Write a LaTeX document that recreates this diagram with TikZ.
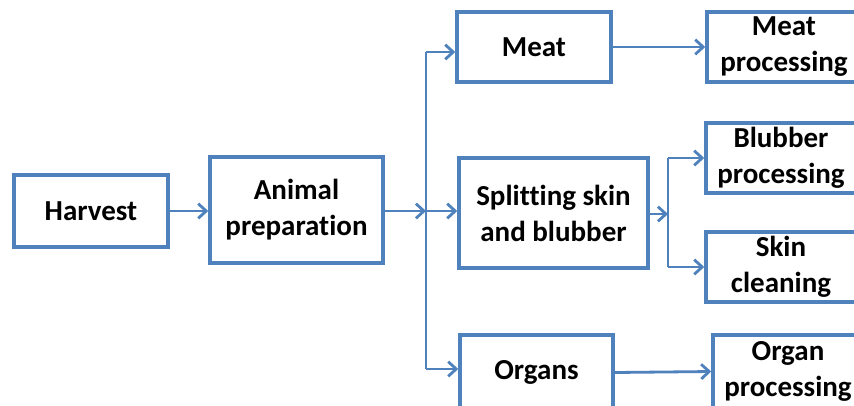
\documentclass[tikz,border=0pt]{standalone}
\usepackage{fontspec}
\setmainfont{Carlito}[Ligatures={NoCommon}]
\usetikzlibrary{arrows.meta}
\definecolor{lineblue}{HTML}{4F81BD}
\tikzset{
  box/.style 2 args={draw=lineblue, line width=2.6pt, fill=white, rectangle, inner sep=0pt,
    minimum width=#1*0.75pt, minimum height=#2*0.75pt, align=center,
    font=\bfseries\fontsize{21.75}{27}\selectfont, text=black},
  arr/.style={draw=lineblue, line width=2.1pt, -{Straight Barb[length=6pt,width=11pt,line width=2.1pt]}},
  ln/.style={draw=lineblue, line width=2.1pt}
}
\begin{document}
\begin{tikzpicture}[x=0.75pt,y=-0.75pt]
\useasboundingbox (0,0) rectangle (854,405);
\clip (0,0) rectangle (854,405);
\fill[white] (0,0) rectangle (854,405);

\node[box={154}{72}] (harvest) at (91,211) {Harvest};
\node[box={173}{106}] (animal) at (296.5,210) {Animal\\preparation};
\node[box={154}{70}] (meat) at (534,47) {Meat};
\node[box={189}{110}] (split) at (553.5,213) {Splitting skin\\and blubber};
\node[box={153}{75}] (organs) at (536.5,372.5) {Organs};
\node[box={154}{70}] (meatp) at (784,47) {Meat\\processing};
\node[box={150}{70}] (blubp) at (781,158) {Blubber\\processing};
\node[box={150}{70}] (skinc) at (781,267) {Skin\\cleaning};
\node[box={150}{73}] (organp) at (788,371.5) {Organ\\processing};

\coordinate (j) at (426,211);
\coordinate (top) at (426,52);
\coordinate (bot) at (426,369);
\coordinate (b) at (668,214);
\coordinate (bt) at (668,158);
\coordinate (bb) at (668,267);

\draw[arr] (harvest.east) -- (harvest.east -| animal.west);
\draw[arr] (animal.east |- j) -- (j);
\draw[ln] (top) -- (bot);
\draw[arr] (top) -- (top -| meat.west);
\draw[arr] (j) -- (j -| split.west);
\draw[arr] (bot) -- (bot -| organs.west);
\draw[arr] (meat.east) -- (meatp.west);
\draw[arr] (split.east |- b) -- (b);
\draw[ln] (bt) -- (bb);
\draw[arr] (bt) -- (bt -| blubp.west);
\draw[arr] (bb) -- (bb -| skinc.west);
\draw[arr] (organs.east) -- (organp.west);
\end{tikzpicture}
\end{document}
